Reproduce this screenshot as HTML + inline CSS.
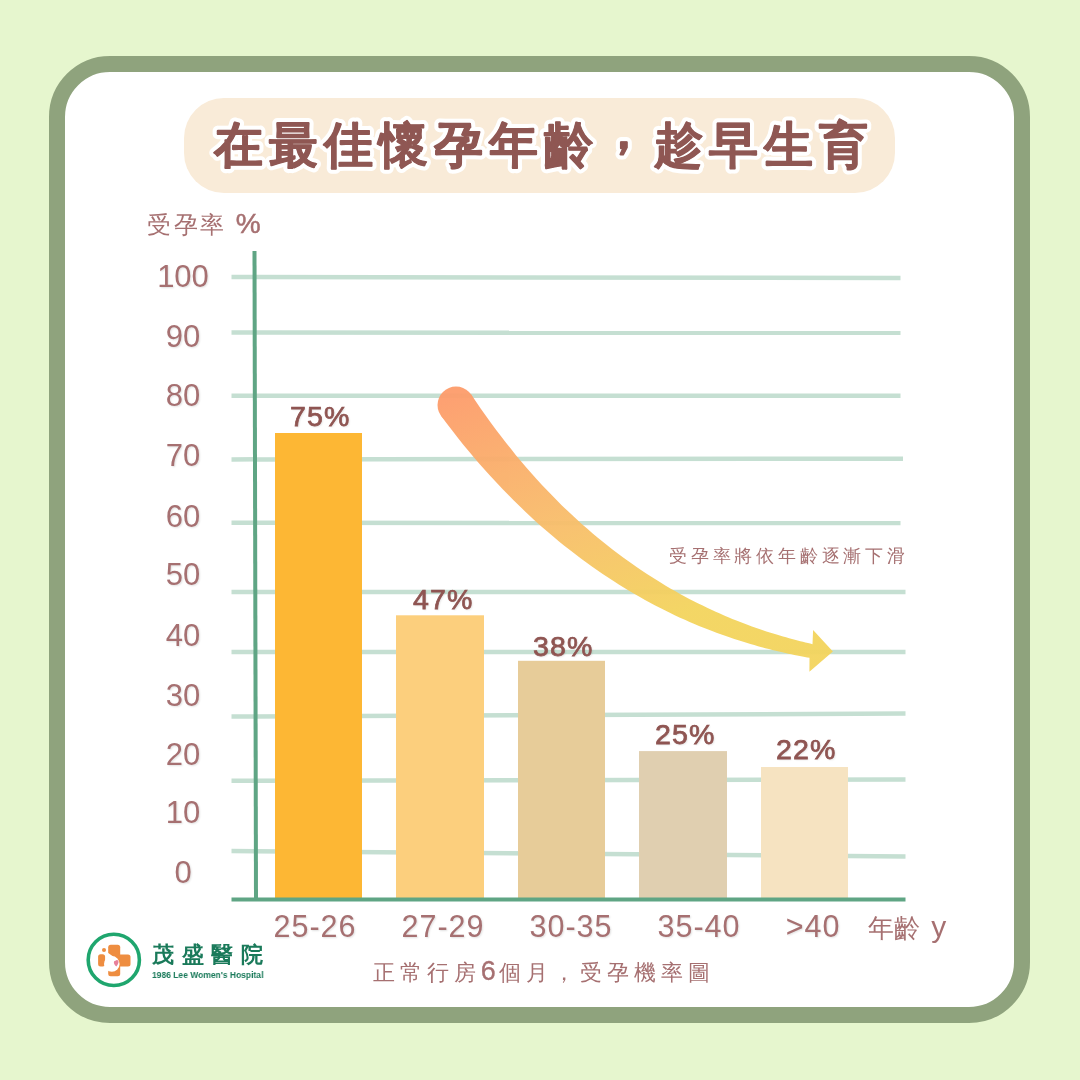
<!DOCTYPE html>
<html><head><meta charset="utf-8">
<style>
html,body{margin:0;padding:0;}
body{width:1080px;height:1080px;position:relative;overflow:hidden;background:#E6F6CE;font-family:"Liberation Sans",sans-serif;}
.yl,.pct,.xl,.t{will-change:transform;}
.frame{position:absolute;left:49px;top:55.5px;width:948.5px;height:935px;border:16.8px solid #8FA37D;border-radius:61px;background:#fff;}
.pill{position:absolute;left:184px;top:98px;width:711px;height:95px;border-radius:40px;background:#F9EBD8;}
svg{position:absolute;left:0;top:0;}
.yl{position:absolute;left:133px;width:100px;text-align:center;font-size:31px;line-height:34px;color:#A67071;text-shadow:1px 1px 2px rgba(0,0,0,.12);}
.pct{position:absolute;white-space:nowrap;font-size:28.5px;font-weight:normal;-webkit-text-stroke:0.75px #8F5552;letter-spacing:1.2px;line-height:32px;color:#8F5552;text-shadow:1px 1px 2px rgba(0,0,0,.12);}
.xl{position:absolute;top:909px;width:120px;text-align:center;font-size:30.5px;line-height:34px;color:#A67071;letter-spacing:1px;text-shadow:1px 1px 2px rgba(0,0,0,.12);}
.t{position:absolute;color:#A67071;white-space:nowrap;}
</style></head><body>
<div class="frame"></div>
<div class="pill"></div>
<svg width="1080" height="1080" viewBox="0 0 1080 1080">
<defs>
<linearGradient id="ag" gradientUnits="userSpaceOnUse" x1="470" y1="387" x2="560" y2="655">
<stop offset="0" stop-color="#FD9C6B"/><stop offset="0.55" stop-color="#F8BD6A"/><stop offset="1" stop-color="#F3D45D"/>
</linearGradient>
</defs>
<g font-size="49" font-weight="bold" letter-spacing="6" font-family="Liberation Sans, sans-serif" stroke-linejoin="round">
<text x="213.5" y="161.5" fill="#fff" stroke="#fff" stroke-width="9">在最佳懷孕年齡<tspan dy="-14">，</tspan><tspan dy="14">趁早生育</tspan></text>
<text x="213.5" y="161.5" fill="#8F5753" stroke="#8F5753" stroke-width="0.9">在最佳懷孕年齡<tspan dy="-14">，</tspan><tspan dy="14">趁早生育</tspan></text>
</g>
<g stroke="#C5DFD2" stroke-width="4.5" fill="none"><path d="M231.5 277 L900.5 278"/><path d="M231.5 332.6 L900.5 332.8"/><path d="M231.5 395.7 L900.5 395.7"/><path d="M231.5 459.4 L903 458.7"/><path d="M231.5 522.8 L900.5 523"/><path d="M231.5 591.9 L905.5 591.9"/><path d="M231.5 652 L905.5 652"/><path d="M231.5 716.5 L905.5 713.5"/><path d="M231.5 780.7 L905.5 779.6"/><path d="M231.5 851.1 L905.5 856.5"/></g>
<rect x="275" y="433" width="87" height="465.5" fill="#FDB734"/><rect x="396" y="615.3" width="88" height="283.20000000000005" fill="#FCCF7D"/><rect x="518" y="660.8" width="87" height="237.70000000000005" fill="#E7CC99"/><rect x="639" y="751.1" width="88" height="147.39999999999998" fill="#E0CFB0"/><rect x="761" y="767" width="87" height="131.5" fill="#F6E3C1"/>
<path d="M254.5 251 L256 899" stroke="#5FA584" stroke-width="4" fill="none"/>
<path d="M231.5 899.5 L905.5 899.5" stroke="#5FA584" stroke-width="4" fill="none"/>
<g opacity="0.95"><path d="M471.2 394.4 L476.1 401.7 L481.0 408.9 L486.0 416.0 L491.0 422.9 L496.0 429.7 L501.0 436.3 L506.0 442.8 L511.1 449.1 L516.1 455.4 L521.2 461.4 L526.3 467.4 L531.4 473.2 L536.5 478.9 L541.5 484.4 L546.6 489.8 L551.7 495.1 L556.8 500.3 L561.9 505.4 L567.0 510.3 L572.1 515.1 L577.2 519.8 L582.3 524.4 L587.4 528.8 L592.4 533.2 L597.5 537.4 L602.5 541.5 L607.5 545.6 L612.5 549.5 L617.5 553.3 L622.5 557.0 L627.4 560.6 L632.4 564.1 L637.3 567.5 L642.1 570.8 L647.0 574.0 L651.8 577.1 L656.6 580.1 L661.4 583.1 L666.1 585.9 L670.8 588.7 L675.5 591.3 L680.1 593.9 L684.7 596.4 L689.3 598.9 L693.8 601.2 L698.3 603.5 L702.7 605.6 L707.1 607.7 L711.4 609.8 L715.7 611.7 L719.9 613.6 L724.1 615.5 L728.3 617.2 L732.3 618.9 L736.4 620.5 L740.3 622.1 L744.2 623.6 L748.1 625.0 L751.9 626.4 L755.6 627.7 L759.3 629.0 L762.9 630.2 L766.4 631.4 L769.8 632.5 L773.2 633.5 L776.6 634.6 L779.8 635.5 L783.0 636.4 L786.1 637.3 L789.1 638.2 L792.0 639.0 L794.9 639.7 L797.6 640.5 L800.3 641.2 L802.9 641.8 L805.4 642.4 L807.9 643.0 L810.2 643.6 L812.5 644.2 L813.1 630.0 L832.9 651.4 L809.4 671.8 L809.5 657.8 L807.2 657.4 L804.8 657.0 L802.3 656.5 L799.7 656.0 L797.1 655.4 L794.3 654.9 L791.4 654.3 L788.4 653.7 L785.4 653.0 L782.3 652.3 L779.0 651.5 L775.7 650.8 L772.3 649.9 L768.9 649.1 L765.3 648.2 L761.7 647.2 L758.0 646.2 L754.2 645.1 L750.4 644.0 L746.5 642.8 L742.5 641.6 L738.4 640.3 L734.3 639.0 L730.1 637.6 L725.8 636.1 L721.5 634.6 L717.1 633.0 L712.7 631.3 L708.2 629.6 L703.6 627.8 L699.0 625.9 L694.4 624.0 L689.6 621.9 L684.9 619.8 L680.0 617.7 L675.2 615.4 L670.3 613.0 L665.3 610.6 L660.3 608.1 L655.2 605.4 L650.1 602.7 L645.0 599.9 L639.9 597.0 L634.6 594.1 L629.4 591.0 L624.1 587.8 L618.8 584.5 L613.5 581.1 L608.1 577.6 L602.7 574.0 L597.3 570.3 L591.9 566.5 L586.4 562.5 L580.9 558.5 L575.4 554.3 L569.9 550.1 L564.3 545.7 L558.7 541.2 L553.2 536.5 L547.6 531.8 L542.0 526.9 L536.3 521.9 L530.7 516.7 L525.1 511.4 L519.5 506.0 L513.8 500.5 L508.2 494.8 L502.5 489.0 L496.9 483.1 L491.3 477.0 L485.6 470.8 L480.0 464.4 L474.4 457.9 L468.8 451.2 L463.1 444.4 L457.6 437.4 L452.0 430.3 L446.4 423.0 L440.8 415.6 Z" fill="url(#ag)"/>
<circle cx="456.0" cy="405.0" r="18.5" fill="url(#ag)"/></g>

<circle cx="113.8" cy="959.9" r="25.6" fill="none" stroke="#1FA66E" stroke-width="3.6"/>
<g fill="#EE8D40">
<rect x="108.2" y="944.8" width="12" height="31.4" rx="2.5"/>
<rect x="108" y="954.5" width="22.5" height="12" rx="2.5"/>
<rect x="98.1" y="954.2" width="7" height="12.3" rx="2.5"/>
<circle cx="104" cy="950" r="2"/>
</g>
<path d="M107.5 952.6 L113.2 956.6 L113 964 L107.5 964 Z" fill="#fff"/>
<circle cx="111.8" cy="963.9" r="7.8" fill="#fff"/>
<path d="M116.3 966.5 C113 964 113.5 960.5 115.5 960.8 C116.5 959.5 119 960 118.5 962.5 C118 964.5 117 965.5 116.3 966.5 Z" fill="#E8809A"/>

</svg>
<div class="t" style="left:147px;top:210px;font-size:24px;line-height:28px;letter-spacing:2.5px;">受孕率 <span style="font-size:28px;letter-spacing:0;-webkit-text-stroke:0.5px #A67071">%</span></div>
<div class="yl" style="top:259.6px">100</div><div class="yl" style="top:320.0px">90</div><div class="yl" style="top:379.4px">80</div><div class="yl" style="top:439.4px">70</div><div class="yl" style="top:499.9px">60</div><div class="yl" style="top:557.6px">50</div><div class="yl" style="top:619.1px">40</div><div class="yl" style="top:678.9px">30</div><div class="yl" style="top:738.0px">20</div><div class="yl" style="top:796.3px">10</div><div class="yl" style="top:856.2px">0</div>
<div class="pct" style="left:290.2px;top:399.7px">75%</div><div class="pct" style="left:413.0px;top:583.0px">47%</div><div class="pct" style="left:533.3px;top:629.9px">38%</div><div class="pct" style="left:654.9px;top:718.0px">25%</div><div class="pct" style="left:776.3px;top:733.0px">22%</div>
<div class="xl" style="left:255.1px">25-26</div><div class="xl" style="left:383.2px">27-29</div><div class="xl" style="left:511.0px">30-35</div><div class="xl" style="left:639.3px">35-40</div><div class="xl" style="left:753.0px">&gt;40</div>
<div class="t" style="left:868px;top:911.5px;font-size:26px;line-height:30px;">年齡 <span style="font-size:30px;margin-left:4px">y</span></div>
<div class="t" style="left:373px;top:956.5px;font-size:22px;line-height:28px;letter-spacing:4.95px;">正常行房<span style="font-size:27px;letter-spacing:3.5px;-webkit-text-stroke:0.3px #A67071">6</span>個月，受孕機率圖</div>
<div class="t" style="left:669px;top:544px;font-size:18px;line-height:24px;letter-spacing:3.8px;">受孕率將依年齡逐漸下滑</div>
<div class="t" style="left:152px;top:940.5px;font-size:22px;line-height:28px;font-weight:bold;color:#1A7A5A;letter-spacing:7.7px;">茂盛醫院</div>
<div class="t" style="left:152px;top:967.5px;font-size:9.6px;font-weight:bold;line-height:14px;color:#1A7A5A;transform:scaleX(0.885);transform-origin:0 0;">1986 Lee Women's Hospital</div>
</body></html>
